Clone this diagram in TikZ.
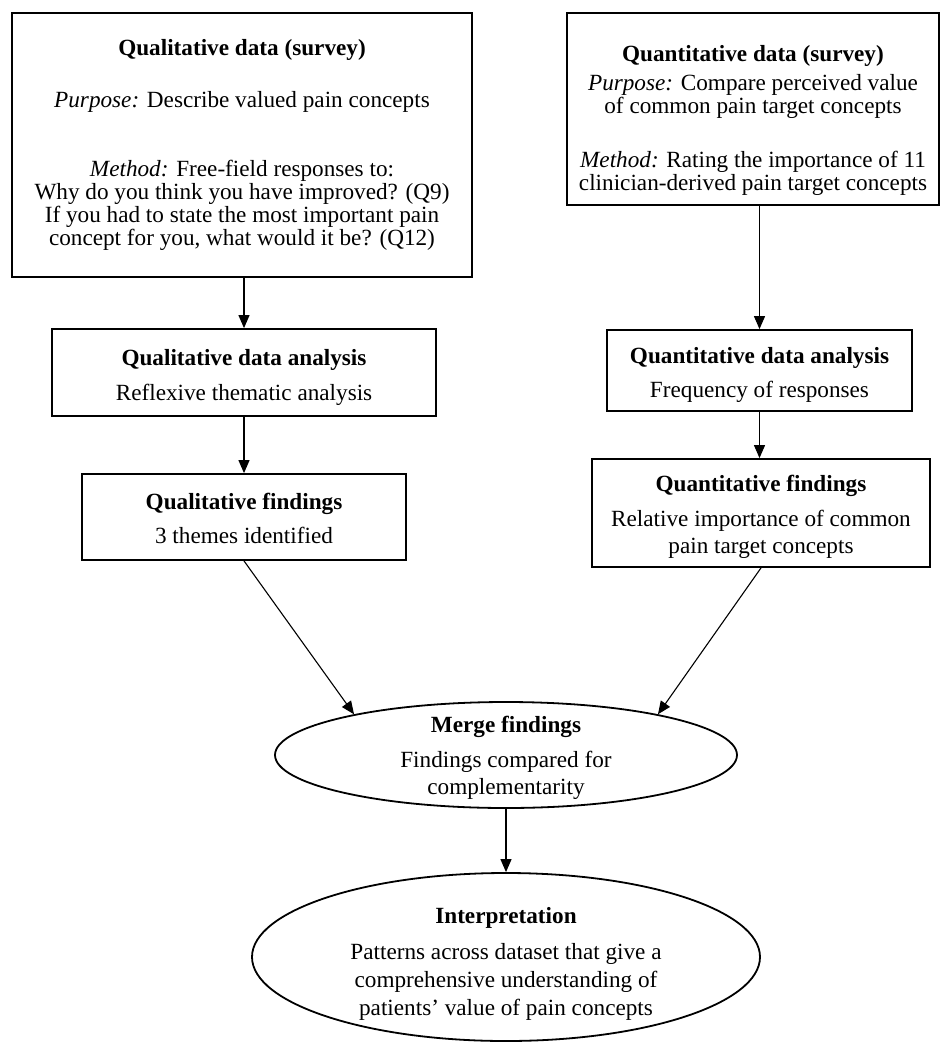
\documentclass[tikz,border=0pt]{standalone}
\usepackage{fontspec}
\setmainfont{Liberation Serif}
\usetikzlibrary{arrows.meta,shapes.geometric}

\newcommand\up[1]{\rule{0pt}{#1pt}}
\newcommand\dn[1]{\rule[-#1pt]{0pt}{#1pt}}

\begin{document}
\begin{tikzpicture}[x=1pt,y=-1pt,
  boxnode/.style={draw, line width=1.8pt, rectangle, inner sep=0pt, align=center},
  ellnode/.style={draw, line width=1.8pt, ellipse, inner sep=0pt},
  txt/.style={inner sep=0pt, align=center},
  conn/.style={line width=1.1pt, -{Triangle[length=13pt,width=11pt]}},
  tight/.style={font=\fontsize{23.2}{23}\selectfont},
  loose/.style={font=\fontsize{23.2}{27.5}\selectfont},
  looser/.style={font=\fontsize{23.2}{28}\selectfont},
]
\useasboundingbox (0,0) rectangle (941,1042);

% top boxes
\node[boxnode, tight, minimum width=460pt, minimum height=264pt] (b1) at (242,145)
  {\up{17}\textbf{Qualitative data (survey)}\\[29pt]
   \textit{Purpose:} Describe valued pain concepts\\[46pt]
   \textit{Method:} Free-field responses to:\\
   Why do you think you have improved? (Q9)\\
   If you had to state the most important pain\\
   concept for you, what would it be? (Q12)\dn{7}};

\node[boxnode, tight, minimum width=372pt, minimum height=192pt] (b2) at (753,109)
  {\up{39}\textbf{Quantitative data (survey)}\\[6pt]
   \textit{Purpose:} Compare perceived value\\
   of common pain target concepts\\[31pt]
   \textit{Method:} Rating the importance of 11\\
   clinician-derived pain target concepts\dn{5}};

% analysis boxes
\node[boxnode, loose, minimum width=384pt, minimum height=87pt] (b3) at (244,372.5)
  {\up{25}\textbf{Qualitative data analysis}\\[7.5pt]
   Reflexive thematic analysis\dn{5}};

\node[boxnode, loose, minimum width=305pt, minimum height=81pt] (b4) at (759.5,370.5)
  {\up{24}\textbf{Quantitative data analysis}\\[6.5pt]
   Frequency of responses\dn{5}};

% findings boxes
\node[boxnode, loose, minimum width=324pt, minimum height=86pt] (b5) at (244,517)
  {\up{23}\textbf{Qualitative findings}\\[6.5pt]
   3 themes identified\dn{5}};

\node[boxnode, loose, minimum width=338pt, minimum height=108pt] (b6) at (761,513)
  {\up{24}\textbf{Quantitative findings}\\[7.5pt]
   Relative importance of common\\
   pain target concepts\dn{5}};

% ellipses
\node[ellnode, minimum width=462pt, minimum height=106pt] (e1) at (506,755) {};
\node[txt, loose, anchor=north] (e1t) at (506,715)
  {\up{17}\textbf{Merge findings}\\[7.5pt]
   Findings compared for\\
   complementarity};

\node[ellnode, minimum width=508pt, minimum height=168pt] (e2) at (506,957) {};
\node[txt, looser, anchor=north] (e2t) at (506,906)
  {\up{17}\textbf{Interpretation}\\[8pt]
   Patterns across dataset that give a\\
   comprehensive understanding of\\
   patients’ value of pain concepts};

% connectors
\draw[conn] (b3.north |- b1.south) -- (b3.north);
\draw[conn] (b4.north |- b2.south) -- (b4.north);
\draw[conn] (b3.south) -- (b5.north);
\draw[conn] (b4.south) -- (b4.south |- b6.north);
\draw[conn] (b5.south) -- (e1.165);
\draw[conn] (b6.south) -- (e1.15);
\draw[conn] (e1.south) -- (e2.north);
\end{tikzpicture}
\end{document}
